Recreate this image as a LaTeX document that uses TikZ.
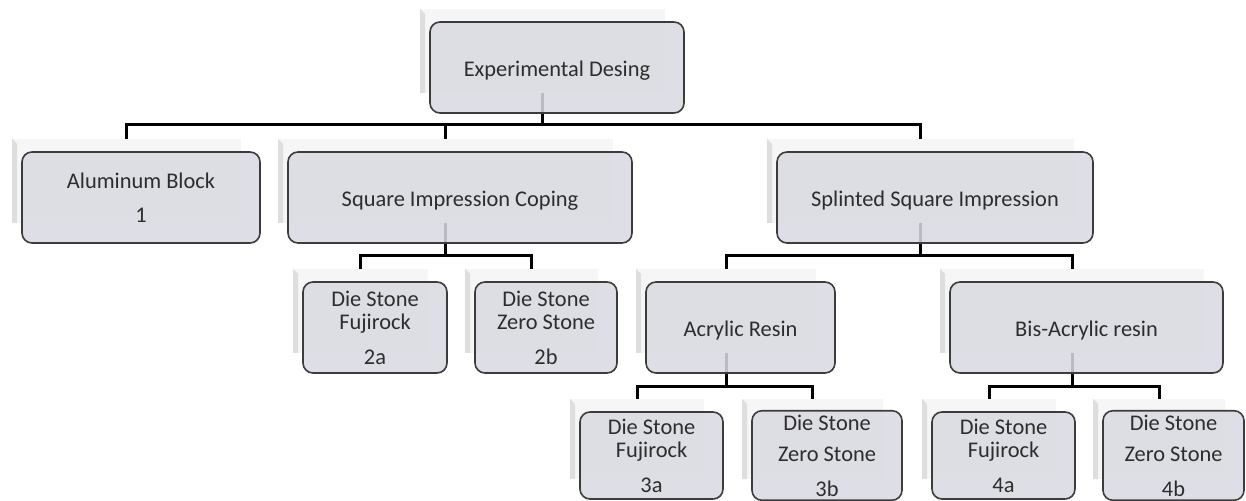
\documentclass[tikz,border=0pt]{standalone}
\usepackage{fontspec}
\setmainfont{Carlito}
\pgfdeclarelayer{shadowlayer}
\pgfdeclarelayer{connlayer}
\pgfsetlayers{shadowlayer,connlayer,main}
\definecolor{boxfill}{RGB}{217,217,226}
\definecolor{boxline}{RGB}{60,60,60}
\definecolor{txt}{RGB}{45,45,45}
\definecolor{shadfill}{RGB}{246,246,246}
\definecolor{shadedge}{RGB}{222,222,222}
\tikzset{
  shad/.style={rectangle, draw=none, fill=shadfill, outer sep=0pt, inner sep=0pt,
    path picture={\fill[shadedge] (path picture bounding box.north west) -- ++(2.5pt,-2.5pt)
      -- ([xshift=2.5pt]path picture bounding box.south west) -- (path picture bounding box.south west) -- cycle;}},
  tbox/.style={rectangle, rounded corners=5pt, draw=boxline, line width=0.8pt, fill=boxfill,
    fill opacity=0.86, text opacity=1, text=txt, align=center, inner sep=2pt, outer sep=0pt,
    font=\fontsize{11.2}{11.5}\selectfont, execute at begin node={\rule{0pt}{11pt}}},
  conn/.style={draw=black, line width=1.5pt}
}
\newcommand\mkbox[6]{%
  \begin{pgfonlayer}{shadowlayer}
    \node[shad, minimum width={(#4-#2-9)*0.5pt}, minimum height={(#5-#3-7)*0.5pt}]
      (#1S) at ({(#2+#4)/2-14.5},{(#3+#5)/2-16.5}) {};
  \end{pgfonlayer}
  \node[tbox, minimum width={(#4-#2)*0.5pt}, minimum height={(#5-#3)*0.5pt}]
    (#1) at ({(#2+#4)/2},{(#3+#5)/2}) {#6};
}
\begin{document}
\begin{tikzpicture}[x=0.5pt, y=-0.5pt]
\useasboundingbox (0,0) rectangle (1246,501);
\mkbox{top}{430}{22}{684}{113}{Experimental Desing}
\mkbox{alu}{22}{152}{260}{243}{Aluminum Block\\[5.5pt]1}
\mkbox{sq}{288}{152}{632}{243}{Square Impression Coping}
\mkbox{spl}{777}{152}{1093}{243}{Splinted Square Impression}
\mkbox{twoa}{303}{282}{447}{373}{Die Stone\\Fujirock\\[6pt]2a}
\mkbox{twob}{475}{282}{617}{373}{Die Stone\\Zero Stone\\[6pt]2b}
\mkbox{acr}{646}{282}{835}{373}{Acrylic Resin}
\mkbox{bis}{950}{282}{1223}{373}{Bis-Acrylic resin}
\mkbox{threea}{580}{412}{723}{499}{Die Stone\\Fujirock\\[6pt]3a}
\mkbox{threeb}{752}{412}{902}{499}{Die Stone\\[4pt]Zero Stone\\[6pt]3b}
\mkbox{foura}{932}{412}{1075}{499}{Die Stone\\Fujirock\\[6pt]4a}
\mkbox{fourb}{1103}{412}{1244}{499}{Die Stone\\[4pt]Zero Stone\\[6pt]4b}
\begin{pgfonlayer}{connlayer}
  \draw[conn] (topS.south) -- ++(0,32) -| (aluS.north);
  \draw[conn] (topS.south) -- ++(0,32) -| (sqS.north);
  \draw[conn] (topS.south) -- ++(0,32) -| (splS.north);
  \draw[conn] (sqS.south) -- ++(0,33) -| (twoaS.north);
  \draw[conn] (sqS.south) -- ++(0,33) -| (twobS.north);
  \draw[conn] (splS.south) -- ++(0,33) -| (acrS.north);
  \draw[conn] (splS.south) -- ++(0,33) -| (bisS.north);
  \draw[conn] (acrS.south) -- ++(0,34) -| (threeaS.north);
  \draw[conn] (acrS.south) -- ++(0,34) -| (threebS.north);
  \draw[conn] (bisS.south) -- ++(0,34) -| (fouraS.north);
  \draw[conn] (bisS.south) -- ++(0,34) -| (fourbS.north);
\end{pgfonlayer}
\end{tikzpicture}
\end{document}
